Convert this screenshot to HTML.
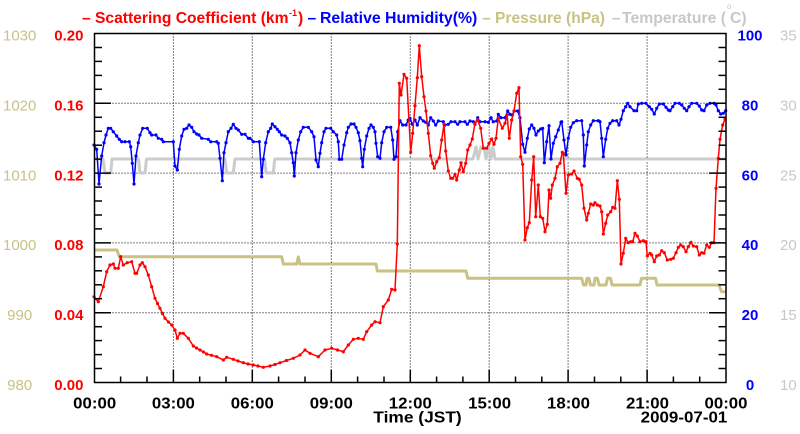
<!DOCTYPE html>
<html>
<head>
<meta charset="utf-8">
<style>
html,body{margin:0;padding:0;background:#fff;}
svg{display:block;}
text{font-family:"Liberation Sans",Arial,sans-serif;}
</style>
</head>
<body>
<svg width="800" height="434" viewBox="0 0 800 434" xmlns="http://www.w3.org/2000/svg">
<defs>
<marker id="mr" markerUnits="userSpaceOnUse" markerWidth="4" markerHeight="4" refX="2" refY="2"><circle cx="2" cy="2" r="1.6" fill="#ff0000"/></marker>
<marker id="mb" markerUnits="userSpaceOnUse" markerWidth="4" markerHeight="4" refX="2" refY="2"><circle cx="2" cy="2" r="1.6" fill="#0000ff"/></marker>
</defs>
<rect width="800" height="434" fill="#fff"/>

<!-- grid -->
<g stroke="#000" stroke-width="1" stroke-dasharray="1 2" fill="none">
<line x1="94.5" y1="312.7" x2="726" y2="312.7"/>
<line x1="94.5" y1="242.9" x2="726" y2="242.9"/>
<line x1="94.5" y1="173.1" x2="726" y2="173.1"/>
<line x1="94.5" y1="103.3" x2="726" y2="103.3"/>
<line x1="173.4" y1="33.5" x2="173.4" y2="382.5"/>
<line x1="252.3" y1="33.5" x2="252.3" y2="382.5"/>
<line x1="331.3" y1="33.5" x2="331.3" y2="382.5"/>
<line x1="410.3" y1="33.5" x2="410.3" y2="382.5"/>
<line x1="489.2" y1="33.5" x2="489.2" y2="382.5"/>
<line x1="568.1" y1="33.5" x2="568.1" y2="382.5"/>
<line x1="647.1" y1="33.5" x2="647.1" y2="382.5"/>
</g>

<!-- temperature (gray) -->
<polyline fill="none" stroke="#cccccc" stroke-width="3" stroke-linejoin="round" points="94,159 103,159 105,173 110.7,173 112,159 138.5,159 140,173 145,173 146.5,159 225,159 226.7,173 233.3,173 235,159 264.7,159 266,173 273.3,173 274.7,159 473,159 476,147 478,159 481,147 484,147 486,159 489,147 491,159 493,147 495,159 726,159"/>

<!-- pressure (khaki) -->
<polyline fill="none" stroke="#c9c283" stroke-width="3" stroke-linejoin="round" points="94,250 117,250 119.3,256.7 281.7,256.7 283.3,264 296.7,264 298.3,257 300,264 376,264 377.3,271 466,271 467.7,278.3 581.7,278.3 583.5,285 586,285 587,278.3 589,278.3 590.5,285 594,285 595,278.3 597.5,278.3 599,285 606,285 607.5,278.3 610.5,278.3 612,285 640,285 641.5,278.3 655.5,278.3 657,285 719,285 721.5,291.7 726,291.7"/>

<!-- RH (blue) -->
<polyline fill="none" stroke="#0000ff" stroke-width="1.5" stroke-linejoin="round" marker-start="url(#mb)" marker-mid="url(#mb)" marker-end="url(#mb)" points="94,145 96.7,149.3 99,184 101.7,156 104,142.7 106,135 108.3,128.3 110.7,128.3 113.3,131.7 116.7,136 119.3,139.3 121.7,141.7 125,141.7 129.3,141.7 130.7,146.7 132.3,163.3 134,184 136,156 138.3,142.7 140,135 142.7,128.3 147.3,128.3 150,132.7 151.7,135 156,135 158.3,138.3 161.7,139.3 163.3,141.7 173.3,141.7 175,166 177.3,170 179.3,149.3 181.7,136 184,129.3 186.7,128.3 189,125 191.7,127.3 194,131.7 196.7,134 199,135 201.7,138.3 208.3,139.3 210.7,141.7 216.7,141.7 218.3,143.3 220,158.3 222.3,180.7 224,152.7 226,142.7 228.3,131.7 231,128.3 233.3,124.3 236,128.3 238.3,130 241.7,134.3 245,134.3 248.3,138.3 250,138.3 253.3,141.7 259.3,141.7 261.7,176.7 263.3,159.3 265.7,142.7 268.3,131.7 270.7,128.3 272.3,124 275,126.7 277.3,129.3 279.3,131.7 281.7,135 285,136 287.3,138.3 290,142.7 291.7,152.7 293.3,162.7 294.3,176 296,152.7 298.3,140 300.7,131.7 303.3,127.3 308.3,127.3 311.7,131.7 314,136.7 316,160 318.3,166.7 320,153.3 321.7,142.7 324,131.7 326,128.3 330.7,128.3 333.3,131.7 336.7,135 338.3,141.7 339.3,159.3 341.7,159.3 344,145 346.7,132.7 348.3,127.3 351,124 354,124 356,127.3 358.3,132.7 360,140.7 361.7,158.3 362.7,166.7 364.3,149.3 366.7,136 369,128.3 371,125 373.3,127.3 375,131.7 376,143.3 377.7,156.7 380,158.3 381.7,142.7 384,131.7 386.7,127.3 390.7,127.3 392.7,140 394,159.3 396,156.7 397.7,131.7 400,120.7 402.7,125 406,125 408.3,120 410,118.3 412.3,124.3 415,120 417.3,125 420,117.7 423.3,121 425.7,122.3 428.3,125 430.7,117.7 433.3,121 435.7,125 438.3,121 443.3,121.7 445,125 448.3,124.3 451,121.7 455,121.7 457.7,124.3 460,121.7 465,121.7 467.3,124.3 470,121 473.3,121.7 475,124.3 477.7,117.7 480,121.7 485,121.7 488.3,122.3 491,117.7 493.3,121.7 496.7,121 498.3,114.3 501,117.7 505,117.7 507.7,111 510,114.3 512.3,115 514.3,111 517.7,111 520,117.7 522.7,144.3 525,152.3 527.3,138.3 529.3,129 531.7,125 534,128.3 536,135 538.3,131 540.7,129 542.7,128.3 544.3,162.7 546.7,141.7 549,125.7 551,159 553.3,143.3 555.7,136.7 558.3,130 561,122.3 561.7,121.7 564,140 566,155 568.3,138.3 570.7,127.3 573.3,122.7 576.7,120.7 581.7,120.7 583.3,135 584.3,166 586.7,145 588.3,131.7 590.7,125 593.3,120.7 598.3,120.7 600,121.7 601.7,138.3 603.3,156.7 605.7,139.3 607.7,128.3 610,123.3 612.7,120.7 616.7,120.7 619,125 621,119.3 623.3,110.7 625.7,106.7 627.7,103.3 630,106.7 634,110.7 636.7,110.7 638.3,104 641.7,103.3 646,103.3 649.3,106.7 651.7,109.3 654.3,114 656.7,108.3 659.3,104 663.3,104 666,107.3 668.3,110 670,110.7 672.7,106.7 675,103.3 679.3,103.3 681.7,105 684.3,108.3 686.7,110.7 689,106.7 691.7,103.3 696.7,103.3 699.3,106 701.7,110 704,110.7 706.7,105 710,103.3 714,103.3 716,105 718.3,110.7 720.7,114 723.3,113.3 725.7,110.7"/>

<!-- scattering (red) -->
<polyline fill="none" stroke="#ff0000" stroke-width="1.5" stroke-linejoin="round" marker-start="url(#mr)" marker-mid="url(#mr)" marker-end="url(#mr)" points="94,296.7 98.3,301.7 103.3,286.7 106.7,271.7 110,265 113.3,264 115,268.3 118.3,268.3 120.7,256.7 123.3,265 127.3,262.7 131.7,261.7 135,273.3 136.7,273.3 140,265 142.3,262.7 145,266.7 148.3,275 151.7,286.7 155,298.3 157.5,303.5 160,308.3 162.5,313.5 165,318.3 168.5,322 171.7,325 175,330 177.3,338.3 180,333.3 183.3,333.3 188.3,338.3 193.3,346 196.5,348 200,350 203.5,352 206.7,354 211.5,355.3 216.7,356.7 223.3,360 226.7,357.3 233.3,359.3 238,361 243.3,362.7 248,364 253.3,365 258,366 263.3,367.3 270,366 275,364.5 280,362.7 286.5,360.5 293.3,358.3 300,355 305,350 310,353.3 318.3,356.7 325,350 331.7,348.3 337.5,350 343.3,351.7 348.3,345 353.3,339.3 358.3,338.3 363.3,339.3 366.7,331.7 371.7,325 375,321.7 380,322.7 383.3,306.7 388.3,300 391.7,289.3 395,290 397.3,244 399.3,83.3 401,95 404,74.3 406.7,78.3 410.7,152.3 412.7,133.3 415,105.7 417.3,77.7 419.3,45.7 421.7,76.7 424,96.7 426,111 428.3,133.3 430.7,155.7 432.7,163.3 434.3,168.3 436.7,161.7 439.3,157.7 441.7,140 444,124.3 445.7,151 448.3,171 450.7,178.3 452.7,178.3 455,174.3 456.7,180 459.3,170 461,162.7 463.3,171.7 465.7,163.3 467.7,150 470,145 472.3,139 475,123.3 477.7,120 480.7,128.3 483.3,148.3 486.7,148.3 489,143.3 491.7,139 494,144.3 496,138.3 498.3,118.3 502.3,128.3 505,123.3 507,115 509.3,138.3 511.7,120 514,111 516.7,93.3 519,87.7 520.7,156.7 522.7,164.3 525,240 527.3,227.7 529.3,222.7 531.7,180 533.7,156.7 535.7,216.7 538.3,185 540.3,216.7 542.7,218.3 545,231.7 547.3,224.3 549,190 550.7,198.3 552.3,185 555,178.3 557.3,166.7 560,163.3 562.3,152.3 563.3,153.3 566,193.3 568.3,175 571.7,174 574,171 577.3,178.3 579.3,179.3 581.7,185 584,208.3 586.7,220 588.3,213.3 590.7,204 593.3,205 595,202.7 597.3,205 600,206 601.7,211.7 603.3,234 605.7,223.3 607.7,215 610.7,211.7 612.7,207.3 615,208.3 617.3,180.7 619.3,199.3 621,264 623.3,253.3 625.7,238.3 628.3,242.7 630.7,241.7 632.7,241.7 635,233.3 637.3,236 640,241.7 643.3,240.7 646,241.7 647.3,256 650,253.3 651.7,255 654.3,261.7 656.7,256 659.3,255 661.7,250.7 664.3,252.7 667.3,260 670.7,259.3 673.3,258.3 676,252.7 678.3,247.3 680.7,245 683.3,246.7 686,251.7 688.3,246.7 691,242.3 693.3,246 696.7,246.7 699.3,255 701.7,252.7 704,253.3 706.7,245 709.3,247.3 711.7,242.7 714,242.7 716,188.3 718.3,158.3 720,139.3 722.7,125 725,119.3"/>

<!-- frame -->
<rect x="94.5" y="33.5" width="631.5" height="349" fill="none" stroke="#000" stroke-width="1.5"/>

<!-- left ticks -->
<g stroke="#000" stroke-width="1.5">
<line x1="94.5" y1="368.5" x2="102" y2="368.5"/><line x1="94.5" y1="354.6" x2="102" y2="354.6"/><line x1="94.5" y1="340.6" x2="102" y2="340.6"/><line x1="94.5" y1="326.7" x2="102" y2="326.7"/>
<line x1="94.5" y1="312.7" x2="111" y2="312.7"/>
<line x1="94.5" y1="298.7" x2="102" y2="298.7"/><line x1="94.5" y1="284.8" x2="102" y2="284.8"/><line x1="94.5" y1="270.8" x2="102" y2="270.8"/><line x1="94.5" y1="256.9" x2="102" y2="256.9"/>
<line x1="94.5" y1="242.9" x2="111" y2="242.9"/>
<line x1="94.5" y1="228.9" x2="102" y2="228.9"/><line x1="94.5" y1="215" x2="102" y2="215"/><line x1="94.5" y1="201" x2="102" y2="201"/><line x1="94.5" y1="187.1" x2="102" y2="187.1"/>
<line x1="94.5" y1="173.1" x2="111" y2="173.1"/>
<line x1="94.5" y1="159.1" x2="102" y2="159.1"/><line x1="94.5" y1="145.2" x2="102" y2="145.2"/><line x1="94.5" y1="131.2" x2="102" y2="131.2"/><line x1="94.5" y1="117.3" x2="102" y2="117.3"/>
<line x1="94.5" y1="103.3" x2="111" y2="103.3"/>
<line x1="94.5" y1="89.3" x2="102" y2="89.3"/><line x1="94.5" y1="75.4" x2="102" y2="75.4"/><line x1="94.5" y1="61.4" x2="102" y2="61.4"/><line x1="94.5" y1="47.5" x2="102" y2="47.5"/>
</g>
<!-- right ticks -->
<g stroke="#000" stroke-width="1.5">
<line x1="726" y1="368.5" x2="718.5" y2="368.5"/><line x1="726" y1="354.6" x2="718.5" y2="354.6"/><line x1="726" y1="340.6" x2="718.5" y2="340.6"/><line x1="726" y1="326.7" x2="718.5" y2="326.7"/>
<line x1="726" y1="312.7" x2="709" y2="312.7"/>
<line x1="726" y1="298.7" x2="718.5" y2="298.7"/><line x1="726" y1="284.8" x2="718.5" y2="284.8"/><line x1="726" y1="270.8" x2="718.5" y2="270.8"/><line x1="726" y1="256.9" x2="718.5" y2="256.9"/>
<line x1="726" y1="242.9" x2="709" y2="242.9"/>
<line x1="726" y1="228.9" x2="718.5" y2="228.9"/><line x1="726" y1="215" x2="718.5" y2="215"/><line x1="726" y1="201" x2="718.5" y2="201"/><line x1="726" y1="187.1" x2="718.5" y2="187.1"/>
<line x1="726" y1="173.1" x2="709" y2="173.1"/>
<line x1="726" y1="159.1" x2="718.5" y2="159.1"/><line x1="726" y1="145.2" x2="718.5" y2="145.2"/><line x1="726" y1="131.2" x2="718.5" y2="131.2"/><line x1="726" y1="117.3" x2="718.5" y2="117.3"/>
<line x1="726" y1="103.3" x2="709" y2="103.3"/>
<line x1="726" y1="89.3" x2="718.5" y2="89.3"/><line x1="726" y1="75.4" x2="718.5" y2="75.4"/><line x1="726" y1="61.4" x2="718.5" y2="61.4"/><line x1="726" y1="47.5" x2="718.5" y2="47.5"/>
</g>
<!-- bottom ticks -->
<g stroke="#000" stroke-width="1.5">
<line x1="120.6" y1="382.5" x2="120.6" y2="376.5"/><line x1="147" y1="382.5" x2="147" y2="376.5"/>
<line x1="173.4" y1="382.5" x2="173.4" y2="369.5"/>
<line x1="199.7" y1="382.5" x2="199.7" y2="376.5"/><line x1="226" y1="382.5" x2="226" y2="376.5"/>
<line x1="252.3" y1="382.5" x2="252.3" y2="369.5"/>
<line x1="278.6" y1="382.5" x2="278.6" y2="376.5"/><line x1="305" y1="382.5" x2="305" y2="376.5"/>
<line x1="331.3" y1="382.5" x2="331.3" y2="369.5"/>
<line x1="357.6" y1="382.5" x2="357.6" y2="376.5"/><line x1="384" y1="382.5" x2="384" y2="376.5"/>
<line x1="410.3" y1="382.5" x2="410.3" y2="369.5"/>
<line x1="436.6" y1="382.5" x2="436.6" y2="376.5"/><line x1="462.9" y1="382.5" x2="462.9" y2="376.5"/>
<line x1="489.2" y1="382.5" x2="489.2" y2="369.5"/>
<line x1="515.5" y1="382.5" x2="515.5" y2="376.5"/><line x1="541.8" y1="382.5" x2="541.8" y2="376.5"/>
<line x1="568.1" y1="382.5" x2="568.1" y2="369.5"/>
<line x1="594.5" y1="382.5" x2="594.5" y2="376.5"/><line x1="620.8" y1="382.5" x2="620.8" y2="376.5"/>
<line x1="647.1" y1="382.5" x2="647.1" y2="369.5"/>
<line x1="673.4" y1="382.5" x2="673.4" y2="376.5"/><line x1="699.7" y1="382.5" x2="699.7" y2="376.5"/>
</g>

<!-- title -->
<g font-size="15.6" font-weight="bold">
<text x="82" y="23" fill="#ff0000">–</text>
<text x="95" y="23" fill="#ff0000" textLength="193.5" lengthAdjust="spacingAndGlyphs">Scattering Coefficient (km</text>
<text x="289" y="16" fill="#ff0000" font-size="9">-1</text>
<text x="298" y="23" fill="#ff0000">)</text>
<text x="307.5" y="23" fill="#0000ff">–</text>
<text x="320" y="23" fill="#0000ff" textLength="157.3" lengthAdjust="spacingAndGlyphs">Relative Humidity(%)</text>
<text x="482" y="23" fill="#c9c283">–</text>
<text x="495" y="23" fill="#c9c283" textLength="110" lengthAdjust="spacingAndGlyphs">Pressure (hPa)</text>
<text x="612" y="23" fill="#c8c8c8">–</text>
<text x="622" y="23" fill="#c8c8c8" textLength="104" lengthAdjust="spacingAndGlyphs">Temperature (</text>
<text x="727" y="9" fill="#c8c8c8" font-size="8" font-weight="normal">o</text>
<text x="730" y="23" fill="#c8c8c8" textLength="16.7" lengthAdjust="spacingAndGlyphs">C)</text>
</g>

<!-- left labels: pressure -->
<g font-size="15" fill="#c9c283" text-anchor="middle">
<text x="19.7" y="40.5">1030</text>
<text x="19.7" y="110.3">1020</text>
<text x="19.7" y="180.5">1010</text>
<text x="19.7" y="250">1000</text>
<text x="19.7" y="320">990</text>
<text x="19.7" y="390">980</text>
</g>
<!-- left labels: scattering -->
<g font-size="15" font-weight="bold" fill="#ff0000" text-anchor="end">
<text x="83.5" y="40.5">0.20</text>
<text x="83.5" y="110.3">0.16</text>
<text x="83.5" y="180.5">0.12</text>
<text x="83.5" y="250">0.08</text>
<text x="83.5" y="320">0.04</text>
<text x="83.5" y="390">0.00</text>
</g>
<!-- right labels: RH -->
<g font-size="15" font-weight="bold" fill="#0000ff" text-anchor="middle">
<text x="750" y="40.5">100</text>
<text x="750" y="110.3">80</text>
<text x="750" y="180.5">60</text>
<text x="750" y="250">40</text>
<text x="750" y="320">20</text>
<text x="750" y="390">0</text>
</g>
<!-- right labels: temperature -->
<g font-size="15" fill="#c8c8c8">
<text x="780" y="40.5">35</text>
<text x="780" y="110.3">30</text>
<text x="780" y="180.5">25</text>
<text x="780" y="250">20</text>
<text x="780" y="320">15</text>
<text x="780" y="390">10</text>
</g>

<!-- x labels -->
<g font-size="16" font-weight="bold" fill="#000" text-anchor="middle">
<text x="94.7" y="408.3" textLength="43" lengthAdjust="spacingAndGlyphs">00:00</text>
<text x="173.4" y="408.3" textLength="43" lengthAdjust="spacingAndGlyphs">03:00</text>
<text x="252.3" y="408.3" textLength="43" lengthAdjust="spacingAndGlyphs">06:00</text>
<text x="331.3" y="408.3" textLength="43" lengthAdjust="spacingAndGlyphs">09:00</text>
<text x="410.3" y="408.3" textLength="43" lengthAdjust="spacingAndGlyphs">12:00</text>
<text x="489.6" y="408.3" textLength="43" lengthAdjust="spacingAndGlyphs">15:00</text>
<text x="568.5" y="408.3" textLength="43" lengthAdjust="spacingAndGlyphs">18:00</text>
<text x="647.5" y="408.3" textLength="43" lengthAdjust="spacingAndGlyphs">21:00</text>
<text x="726" y="408.3" textLength="43" lengthAdjust="spacingAndGlyphs">00:00</text>
</g>
<text x="373.3" y="422.5" font-size="16" font-weight="bold" fill="#000" textLength="88.4" lengthAdjust="spacingAndGlyphs">Time (JST)</text>
<text x="640.7" y="422.5" font-size="16" font-weight="bold" fill="#000" textLength="86.6" lengthAdjust="spacingAndGlyphs">2009-07-01</text>
</svg>
</body>
</html>
